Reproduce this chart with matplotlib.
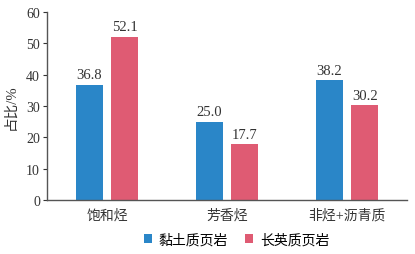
import matplotlib
matplotlib.use("Agg")
import matplotlib.pyplot as plt
import numpy as np

categories = ["饱和烃", "芳香烃", "非烃+沥青质"]
series_names = ["黏土质页岩", "长英质页岩"]
clay = [36.8, 25.0, 38.2]
felsic = [52.1, 17.7, 30.2]
yticks = [0, 10, 20, 30, 40, 50, 60]

plt.rcParams['font.family'] = ['Liberation Serif', 'Noto Sans CJK SC']

fig = plt.figure(figsize=(4.15, 2.55), dpi=100)
ax = fig.add_axes([0.113, 0.212, 0.868, 0.737])

x = np.arange(len(categories))
w = 0.225
off = 0.146
c1 = "#2a86c8"
c2 = "#df5b73"
b1 = ax.bar(x - off, clay, w, color=c1, label=series_names[0])
b2 = ax.bar(x + off, felsic, w, color=c2, label=series_names[1])
for bars, vals in ((b1, clay), (b2, felsic)):
    for r, v in zip(bars, vals):
        ax.text(r.get_x() + r.get_width() / 2, v + 1.2, f"{v:.1f}", ha="center", va="bottom",
                fontsize=10.5, color="#333333")

ax.set_xlim(-0.5, 2.5)
ax.set_ylim(0, 60)
ax.set_yticks(yticks)
ax.set_xticks(x)
ax.set_xticklabels(categories, fontsize=10, color="#333333")
ax.tick_params(axis="x", length=0, pad=6)
ax.tick_params(axis="y", length=3, width=0.8, labelsize=10, colors="#333333", pad=2)
for s in ("top", "right"):
    ax.spines[s].set_visible(False)
for s in ("left", "bottom"):
    ax.spines[s].set_color("#555555")
    ax.spines[s].set_linewidth(1.0)
ax.set_ylabel("占比/%", fontsize=10.5, color="#333333", labelpad=6)

fig.legend(handles=[b1, b2], labels=series_names, loc="lower center", bbox_to_anchor=(0.57, -0.02),
           ncol=2, frameon=False, fontsize=10, handlelength=0.6, handleheight=0.6,
           handletextpad=0.5, columnspacing=1.2)

fig.savefig("out.png", dpi=100)
